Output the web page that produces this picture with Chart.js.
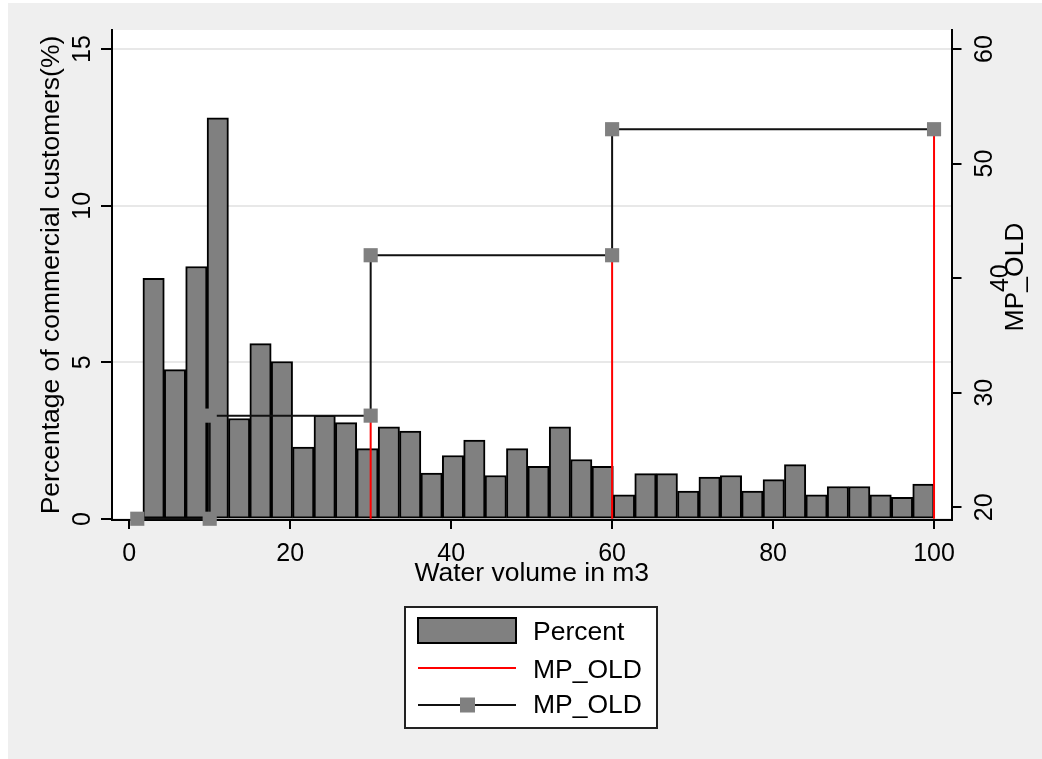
<!DOCTYPE html>
<html><head><meta charset="utf-8">
<script src="https://cdn.jsdelivr.net/npm/chart.js@4.4.1/dist/chart.umd.min.js"></script>
<style>html,body{margin:0;padding:0;background:#fff;overflow:hidden}canvas{display:block}</style>
</head><body>
<canvas id="c" width="1042" height="759"></canvas>
<script>
// ---------------- data ----------------
const binStart = 1.7;          // left edge of first histogram bin (m3)
const binWidth = 2.657;        // histogram bin width (m3)
const percent = [7.68, 4.77, 8.06, 12.81, 3.21, 5.60, 5.03, 2.30, 3.31, 3.08,
                 2.25, 2.94, 2.81, 1.47, 2.03, 2.52, 1.39, 2.25, 1.68, 2.94,
                 1.90, 1.68, 0.77, 1.45, 1.45, 0.89, 1.34, 1.39, 0.89, 1.26,
                 1.74, 0.77, 1.04, 1.04, 0.77, 0.69, 1.12];
const stepX = [1, 10, 10, 30, 30, 60, 60, 100];
const stepY = [19, 19, 28, 28, 42, 42, 53, 53];
const spikeX = [30, 60, 100];
const spikeY = [28, 42, 53];
const spikeBase = 19;
const xTicks = [0, 20, 40, 60, 80, 100];
const yTicks = [0, 5, 10, 15];
const y2Ticks = [20, 30, 40, 50, 60];
const barLabel = 'Percent';
const spikeLabel = 'MP_OLD';
const stepLabel = 'MP_OLD';
const xTitle = 'Water volume in m3';
const yTitle = 'Percentage of commercial customers(%)';
const y2Title = 'MP_OLD';

// ---------------- fonts ----------------
function hasFont(name){
  const c = document.createElement('canvas').getContext('2d');
  const s = '0123456789 abcXYZ';
  c.font = '40px monospace'; const a = c.measureText(s).width;
  c.font = '40px "' + name + '", monospace'; const b = c.measureText(s).width;
  return Math.abs(a - b) > 0.5;
}
const narrow = hasFont('Liberation Sans Narrow');
const tickFont = narrow ? {family: '"Liberation Sans Narrow"', size: 30} : {family: '"Liberation Sans"', size: 25};
const tickFontStr = tickFont.size + 'px ' + tickFont.family;
const titleFont = {family: '"Liberation Sans", Arial, sans-serif', size: 26.5};
const titleFontStr = titleFont.size + 'px ' + titleFont.family;
Chart.defaults.font.family = '"Liberation Sans", Arial, sans-serif';

// ---------------- build datasets ----------------
const barData = percent.map((v, i) => ({x: binStart + binWidth * (i + 0.5), y: v}));
const stepData = stepX.map((x, i) => ({x: x, y: stepY[i]}));
const spikeData = [];
spikeX.forEach((x, i) => { spikeData.push({x: x, y: spikeBase}, {x: x, y: spikeY[i]}, {x: x, y: null}); });

const y2LabelShift = {40: 16.6};

function rotText(ctx, txt, x, y){
  ctx.save(); ctx.translate(x, y); ctx.rotate(-Math.PI / 2); ctx.fillText(txt, 0, 0); ctx.restore();
}

const bgPlugin = {
  id: 'bg',
  beforeDraw(chart){
    const ctx = chart.ctx, a = chart.chartArea;
    ctx.save();
    ctx.fillStyle = '#ffffff'; ctx.fillRect(0, 0, chart.width, chart.height);
    ctx.fillStyle = '#efefef'; ctx.fillRect(8, 3, chart.width - 8, chart.height - 3);
    ctx.fillStyle = '#ffffff'; ctx.fillRect(a.left, a.top, a.right - a.left, a.bottom - a.top);
    ctx.restore();
  }
};

const textPlugin = {
  id: 'rotText',
  afterDraw(chart){
    const ctx = chart.ctx, ys = chart.scales.y, y2s = chart.scales.y2, a = chart.chartArea;
    ctx.save();
    ctx.fillStyle = '#000';
    ctx.textAlign = 'center'; ctx.textBaseline = 'alphabetic';
    ctx.font = tickFontStr;
    ys.ticks.forEach(t => rotText(ctx, String(t.value), 89.5, ys.getPixelForValue(t.value)));
    y2s.ticks.forEach(t => rotText(ctx, String(t.value), 991.7 + (y2LabelShift[t.value] || 0), y2s.getPixelForValue(t.value)));
    ctx.font = titleFontStr;
    rotText(ctx, yTitle, 59, (a.top + a.bottom) / 2);
    rotText(ctx, y2Title, 1023, (a.top + a.bottom) / 2 + 2);
    ctx.restore();
  }
};

const legendPlugin = {
  id: 'boxLegend',
  afterDraw(chart){
    const ctx = chart.ctx;
    const ds = chart.data.datasets;
    const bar = ds[2], spike = ds[1], step = ds[0];
    ctx.save();
    // box
    ctx.fillStyle = '#ffffff'; ctx.fillRect(405, 607, 252, 121);
    ctx.strokeStyle = '#222'; ctx.lineWidth = 2; ctx.strokeRect(405, 607, 252, 121);
    // bar swatch
    ctx.fillStyle = bar.backgroundColor; ctx.fillRect(418, 618, 98, 25);
    ctx.strokeStyle = '#000'; ctx.lineWidth = 2; ctx.strokeRect(418, 618, 98, 25);
    // red line
    ctx.strokeStyle = spike.borderColor; ctx.lineWidth = 2;
    ctx.beginPath(); ctx.moveTo(418, 668); ctx.lineTo(516, 668); ctx.stroke();
    // black line + square
    ctx.strokeStyle = step.borderColor; ctx.lineWidth = 2;
    ctx.beginPath(); ctx.moveTo(418, 705); ctx.lineTo(516, 705); ctx.stroke();
    ctx.fillStyle = step.pointBackgroundColor; ctx.fillRect(460, 697.5, 15, 15);
    // texts
    ctx.fillStyle = '#000'; ctx.font = titleFontStr; ctx.textAlign = 'left'; ctx.textBaseline = 'alphabetic';
    ctx.fillText(bar.label, 533, 640);
    ctx.fillText(spike.label, 533, 678);
    ctx.fillText(step.label, 533, 713);
    ctx.restore();
  }
};

const xLine = tickFont.size * 1.2;
new Chart(document.getElementById('c'), {
  type: 'bar',
  data: {
    datasets: [
      {type: 'line', label: stepLabel, data: stepData, yAxisID: 'y2', xAxisID: 'x',
       borderColor: '#111111', borderWidth: 2, tension: 0, fill: false,
       pointStyle: 'rect', pointRadius: 10, pointHoverRadius: 10,
       pointBackgroundColor: '#808080', pointBorderColor: '#808080', pointBorderWidth: 0,
       clip: false, order: 1},
      {type: 'line', label: spikeLabel, data: spikeData, yAxisID: 'y2', xAxisID: 'x',
       borderColor: '#ff0000', borderWidth: 2, tension: 0, fill: false,
       pointRadius: 0, pointHoverRadius: 0, spanGaps: false, order: 2},
      {type: 'bar', label: barLabel, data: barData, yAxisID: 'y', xAxisID: 'x',
       backgroundColor: '#808080', borderColor: '#000000', borderWidth: 2, borderSkipped: false,
       barPercentage: 1, categoryPercentage: 1, order: 3}
    ]
  },
  options: {
    responsive: false, animation: false, devicePixelRatio: 1,
    layout: {padding: {top: 30, left: 0, right: 0, bottom: 0}},
    plugins: {legend: {display: false}, tooltip: {enabled: false}},
    events: [],
    scales: {
      x: {
        type: 'linear', position: 'bottom', min: -2.14, max: 102.17, offset: false,
        afterBuildTicks: s => { s.ticks = xTicks.map(v => ({value: v})); },
        grid: {offset: false, drawOnChartArea: false, color: '#000', tickColor: '#000', tickLength: 9, lineWidth: 2, tickWidth: 2},
        border: {display: true, color: '#000', width: 2},
        ticks: {font: tickFont, color: '#000', padding: 554 - 529 - xLine / 2, maxRotation: 0, minRotation: 0, autoSkip: false},
        title: {display: true, text: xTitle, font: titleFont, color: '#000', padding: {top: 0, bottom: 759 - 574 - titleFont.size * 1.2 / 2}},
        afterFit: s => { s.height = 239; }
      },
      y: {
        type: 'linear', position: 'left', min: -0.03, max: 15.61,
        afterBuildTicks: s => { s.ticks = yTicks.map(v => ({value: v})); },
        ticks: {display: false},
        grid: {color: '#e8e8e8', lineWidth: 2, tickColor: '#000', tickLength: 11, tickWidth: 2},
        border: {display: true, color: '#000', width: 2},
        afterFit: s => { s.width = 112; }
      },
      y2: {
        type: 'linear', position: 'right', min: 18.89, max: 61.66,
        afterBuildTicks: s => { s.ticks = y2Ticks.map(v => ({value: v})); },
        ticks: {display: false},
        grid: {drawOnChartArea: false, color: '#000', tickColor: '#000', tickLength: 10, lineWidth: 2, tickWidth: 2},
        border: {display: true, color: '#000', width: 2},
        afterFit: s => { s.width = 90.5; }
      }
    }
  },
  plugins: [bgPlugin, textPlugin, legendPlugin]
});
</script>
</body></html>
